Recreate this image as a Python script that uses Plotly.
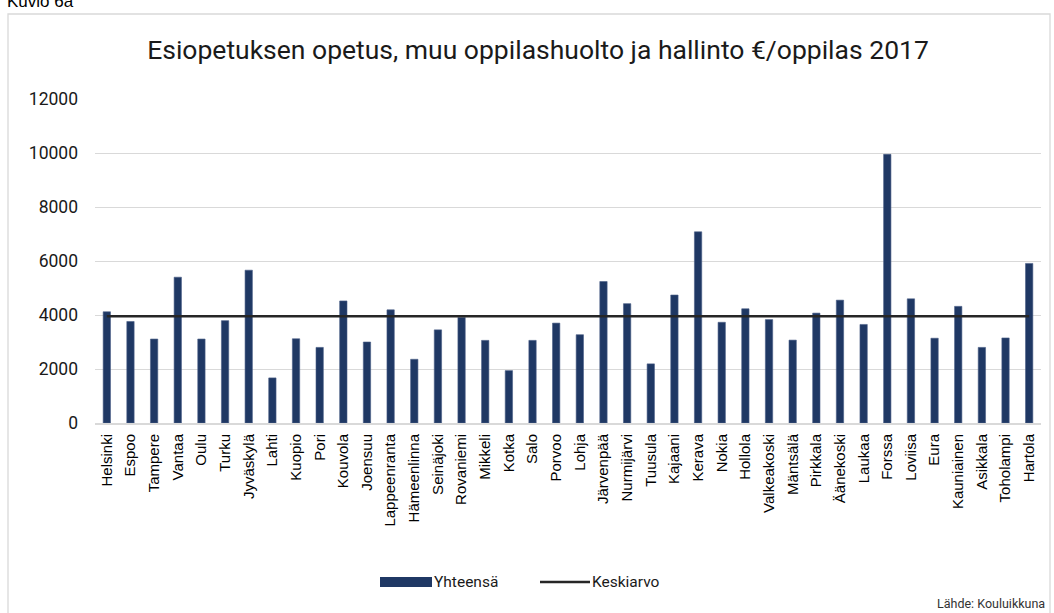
import plotly.graph_objects as go

kunnat = ["Helsinki", "Espoo", "Tampere", "Vantaa", "Oulu", "Turku", "Jyväskylä", "Lahti",
          "Kuopio", "Pori", "Kouvola", "Joensuu", "Lappeenranta", "Hämeenlinna", "Seinäjoki",
          "Rovaniemi", "Mikkeli", "Kotka", "Salo", "Porvoo", "Lohja", "Järvenpää", "Nurmijärvi",
          "Tuusula", "Kajaani", "Kerava", "Nokia", "Hollola", "Valkeakoski", "Mäntsälä",
          "Pirkkala", "Äänekoski", "Laukaa", "Forssa", "Loviisa", "Eura", "Kauniainen",
          "Asikkala", "Toholampi", "Hartola"]

yhteensa = [4120, 3760, 3110, 5400, 3110, 3790, 5660, 1670,
            3120, 2800, 4520, 3000, 4190, 2360, 3450,
            3910, 3060, 1940, 3060, 3700, 3270, 5240, 4420,
            2190, 4740, 7080, 3730, 4230, 3830, 3070,
            4070, 4550, 3650, 9950, 4600, 3140, 4320,
            2800, 3150, 5910]

keskiarvo = 3955
keskiarvo_sarja = [keskiarvo] * len(kunnat)

y_ticks = [0, 2000, 4000, 6000, 8000, 10000, 12000]

BAR_COLOR = "#1F3864"
LINE_COLOR = "#262626"

W, H = 1054, 613
L, R, T, B = 95, 13, 99, 190
pw, ph = W - L - R, H - T - B


def px_x(x):
    return (x - L) / pw


def px_y(y):
    return (H - B - y) / ph


fig = go.Figure()
fig.add_trace(go.Bar(
    x=kunnat, y=yhteensa, name="Yhteensä", showlegend=False,
    marker=dict(color=BAR_COLOR, line=dict(color="#4A5E86", width=0.6)),
))
fig.add_trace(go.Scatter(
    x=kunnat, y=keskiarvo_sarja, name="Keskiarvo", mode="lines", showlegend=False,
    line=dict(color=LINE_COLOR, width=2.6),
))

legend_font = dict(family="Roboto", size=15.5, color="#1a1a1a")

fig.update_layout(
    width=W, height=H,
    margin=dict(l=L, r=R, t=T, b=B),
    paper_bgcolor="white", plot_bgcolor="white",
    bargap=0.69,
    title=dict(
        text="Esiopetuksen opetus, muu oppilashuolto ja hallinto €/oppilas 2017",
        font=dict(family="Roboto", size=26.5, color="#1a1a1a"),
        x=538 / W, xanchor="center", xref="container",
        y=1 - 50 / H, yanchor="middle", yref="container",
    ),
    showlegend=False,
    xaxis=dict(
        type="category", tickangle=-90,
        tickfont=dict(family="Liberation Sans", size=15, color="#000000"),
        showgrid=False, showline=True, linecolor="#D9D9D9", linewidth=2,
        ticks="", ticklabelstandoff=3, fixedrange=True,
    ),
    yaxis=dict(
        range=[0, 12000], tickvals=y_ticks, ticktext=[str(v) for v in y_ticks],
        tickfont=dict(family="Roboto", size=17.5, color="#1a1a1a"),
        showgrid=True, gridcolor="#D9D9D9", gridwidth=1.3,
        zeroline=False, showline=False, ticks="", ticklabelstandoff=16,
        fixedrange=True,
    ),
    shapes=[
        dict(type="rect", xref="paper", yref="paper",
             x0=px_x(8), x1=px_x(1050), y0=px_y(616), y1=px_y(14),
             line=dict(color="#D9D9D9", width=1.3), fillcolor="rgba(0,0,0,0)", layer="below"),
        # legend keys
        dict(type="rect", xref="paper", yref="paper",
             x0=px_x(380), x1=px_x(432), y0=px_y(587), y1=px_y(577),
             line=dict(width=0), fillcolor=BAR_COLOR),
        dict(type="line", xref="paper", yref="paper",
             x0=px_x(540), x1=px_x(590), y0=px_y(582), y1=px_y(582),
             line=dict(color=LINE_COLOR, width=2.6)),
    ],
    annotations=[
        dict(text="Kuvio 6a", xref="paper", yref="paper", x=px_x(5), y=px_y(13),
             xanchor="left", yanchor="bottom", showarrow=False,
             font=dict(family="Liberation Sans", size=17, color="#000000")),
        dict(text="Yhteensä", xref="paper", yref="paper", x=px_x(433), y=px_y(582),
             xanchor="left", yanchor="middle", showarrow=False, xshift=-1, font=legend_font),
        dict(text="Keskiarvo", xref="paper", yref="paper", x=px_x(591), y=px_y(582),
             xanchor="left", yanchor="middle", showarrow=False, xshift=-1, font=legend_font),
        dict(text="Lähde: Kouluikkuna", xref="paper", yref="paper", x=px_x(1047), y=px_y(603),
             xanchor="right", yanchor="middle", showarrow=False,
             font=dict(family="Roboto", size=12.5, color="#333333")),
    ],
)

fig.write_html(
    "out.html",
    config={"displayModeBar": False},
    post_script="document.body.style.margin='0';document.body.style.overflow='hidden';",
)
